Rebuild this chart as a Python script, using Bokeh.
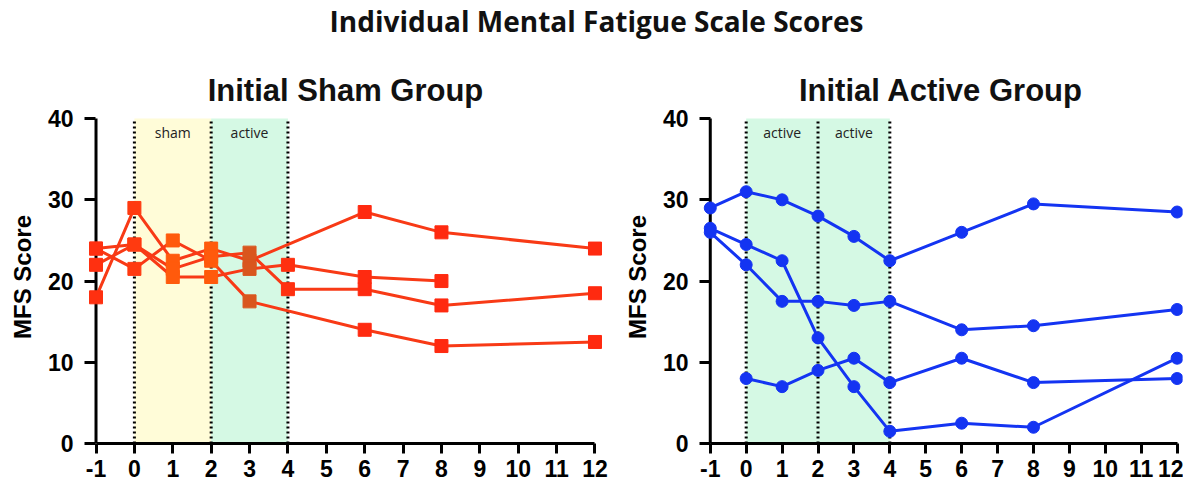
from bokeh.plotting import figure
from bokeh.layouts import column, row
from bokeh.models import Div, Range1d, FixedTicker
from bokeh.embed import file_html
from bokeh.resources import INLINE
from bokeh.core.properties import value

# ---------------- data ----------------
weeks = [-1, 0, 1, 2, 3, 4, 6, 8, 12]
x_ticks = [-1, 0, 1, 2, 3, 4, 5, 6, 7, 8, 9, 10, 11, 12]
y_ticks = [0, 10, 20, 30, 40]

# Initial Sham Group (MFS scores per subject, None = missing)
sham_s1 = [18, 29, 22.5, 24, 22.5, None, 28.5, 26, 24]
sham_s2 = [24, 21.5, 25, 22.5, 17.5, None, 14, 12, 12.5]
sham_s3 = [22, 24.5, 21.5, 23, 23.5, 19, 19, 17, 18.5]
sham_s4 = [24, 24.5, 20.5, 20.5, 21.5, 22, 20.5, 20, None]
sham_line_color = "#F83A16"
# marker colour by week (sham weeks orange, week 3 brownish)
sham_week_colors = ["#FF3010", "#FF3A10", "#FF5A0C", "#FF5A0C", "#D9561E",
                    "#FF3010", "#FF2A10", "#FF2A10", "#FF2A10"]

# Initial Active Group
active_s1 = [29, 31, 30, 28, 25.5, 22.5, 26, 29.5, 28.5]
active_s2 = [26.5, 24.5, 22.5, 13, 7, 1.5, 2.5, 2, 10.5]
active_s3 = [26, 22, 17.5, 17.5, 17, 17.5, 14, 14.5, 16.5]
active_s4 = [None, 8, 7, 9, 10.5, 7.5, 10.5, 7.5, 8]
active_line_color = "#1434F2"
active_week_colors = ["#1434F2"] * 9

# treatment phases (week boundaries)
sham_phase_start = [0, 2]
sham_phase_end = [2, 4]
sham_phase_label = ["sham", "active"]
sham_phase_color = ["#FFFCD8", "#D5F9E4"]

active_phase_start = [0, 2]
active_phase_end = [2, 4]
active_phase_label = ["active", "active"]
active_phase_color = ["#D5F9E4", "#D5F9E4"]

boundaries = [0, 2, 4]

title_main = "Individual Mental Fatigue Scale Scores"
title_left = "Initial Sham Group"
title_right = "Initial Active Group"
y_label = "MFS Score"

FONT = "Liberation Sans"


def make_panel(title, subjects, line_color, week_colors, marker, msize, ph_s, ph_e, ph_l, ph_c,
               width, border_left, border_right, x_start, x_end, tick_in):
    p = figure(width=width, height=431, output_backend="svg", toolbar_location=None,
               x_range=Range1d(x_start, x_end), y_range=Range1d(0, 41),
               min_border_left=border_left, min_border_right=border_right,
               min_border_top=60, min_border_bottom=38)
    p.title.text = title
    p.title.align = "center"
    p.title.text_font = FONT
    p.title.text_font_size = "31px"
    p.title.text_font_style = "bold"
    p.title.text_color = "#111111"
    p.title.standoff = 6
    p.outline_line_color = None
    p.grid.visible = False
    p.background_fill_color = "white"
    p.border_fill_color = "white"

    # phase bands
    p.quad(left=ph_s, right=ph_e, bottom=[y_ticks[0]] * len(ph_s), top=[y_ticks[-1]] * len(ph_s),
           fill_color=ph_c, line_color=None)
    p.segment(x0=boundaries, y0=[y_ticks[0]] * len(boundaries), x1=boundaries,
              y1=[y_ticks[-1]] * len(boundaries), line_color="#000000",
              line_width=3, line_dash="2 3")
    p.text(x=[(s + e) / 2 for s, e in zip(ph_s, ph_e)], y=[38.3] * len(ph_s), text=ph_l,
           text_font=value("Open Sans"), text_font_size="14px", text_color="#222222",
           text_align="center", text_baseline="middle")

    # y axis line at the first week
    p.segment(x0=[x_ticks[0]], y0=[y_ticks[0]], x1=[x_ticks[0]], y1=[y_ticks[-1]],
              line_color="black", line_width=3)

    for vals in subjects:
        xs = [w for w, v in zip(weeks, vals) if v is not None]
        ys = [v for v in vals if v is not None]
        cs = [c for c, v in zip(week_colors, vals) if v is not None]
        p.line(xs, ys, line_color=line_color, line_width=3)
        p.scatter(xs, ys, marker=marker, size=msize, fill_color=cs, line_color=cs)

    for ax in (p.xaxis[0], p.yaxis[0]):
        ax.axis_line_width = 3
        ax.axis_line_color = "black"
        ax.major_tick_line_width = 3
        ax.major_tick_line_color = "black"
        ax.minor_tick_line_color = None
        ax.major_label_text_font = FONT
        ax.major_label_text_font_size = "23px"
        ax.major_label_text_font_style = "bold"
        ax.major_label_text_color = "black"
    p.xaxis.major_tick_in = 0
    p.xaxis.major_tick_out = 10
    p.yaxis.major_tick_in = tick_in
    p.yaxis.major_tick_out = 0
    p.yaxis.axis_line_color = None
    p.xaxis.ticker = FixedTicker(ticks=x_ticks)
    p.yaxis.ticker = FixedTicker(ticks=y_ticks)
    p.xaxis.major_label_overrides = {t: str(t) for t in x_ticks}
    p.xaxis.bounds = (x_ticks[0], x_ticks[-1])
    p.yaxis.bounds = (y_ticks[0], y_ticks[-1])
    p.xaxis.major_label_standoff = 6
    p.yaxis.major_label_standoff = 11
    p.yaxis.axis_label = y_label
    p.yaxis.axis_label_text_font = FONT
    p.yaxis.axis_label_text_font_size = "24px"
    p.yaxis.axis_label_text_font_style = "bold"
    p.yaxis.axis_label_text_color = "black"
    p.yaxis.axis_label_standoff = 9
    return p


p1 = make_panel(title_left, [sham_s1, sham_s2, sham_s3, sham_s4], sham_line_color, sham_week_colors,
                "square", 13, sham_phase_start, sham_phase_end, sham_phase_label, sham_phase_color,
                612, 84, 6, -1.3, 12.3, 11)
p2 = make_panel(title_right, [active_s1, active_s2, active_s3, active_s4], active_line_color,
                active_week_colors, "circle", 12, active_phase_start, active_phase_end,
                active_phase_label, active_phase_color,
                571, 87, 1, -1.3, 12.15, 11)

header = Div(text=title_main, width=1183, height=40,
             styles={"font-family": "Open Sans", "font-weight": "bold", "font-size": "28px",
                     "text-align": "center", "width": "1183px", "color": "#111111",
                     "line-height": "32px"})

layout = column(header, row(p1, p2))

with open("out.html", "w") as f:
    f.write(file_html(layout, INLINE))
